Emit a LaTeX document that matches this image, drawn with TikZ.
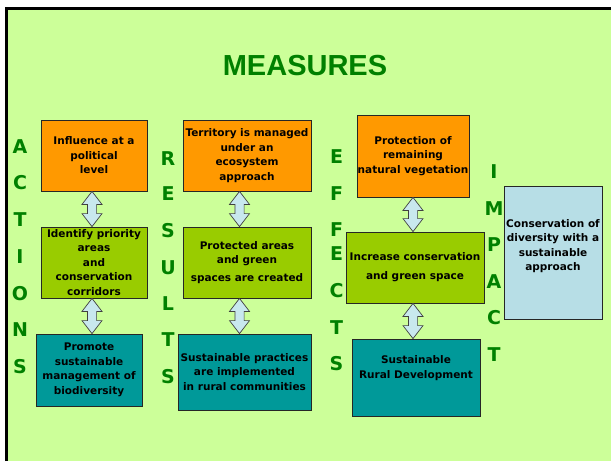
\documentclass[tikz,border=0pt]{standalone}
\usepackage{fontspec}
\setmainfont{DejaVu Sans}
\newfontfamily\titlefont{Liberation Sans}
\usetikzlibrary{calc}
\definecolor{bg}{RGB}{204,255,153}
\definecolor{orng}{RGB}{255,153,0}
\definecolor{grn}{RGB}{153,204,0}
\definecolor{tealbox}{RGB}{0,153,153}
\definecolor{lblue}{RGB}{183,222,230}
\definecolor{arrfill}{RGB}{200,232,238}
\definecolor{ltrgreen}{RGB}{0,128,0}
\newcommand\dblarr[2]{\path[arrsty] let \p1=#1, \p2=#2 in
  (\x1,\y1) -- (\x1+10pt,\y1-13pt) -- (\x1+4.6pt,\y1-13pt) -- (\x1+4.6pt,\y2+13pt)
  -- (\x1+10pt,\y2+13pt) -- (\x1,\y2) -- (\x1-10pt,\y2+13pt) -- (\x1-4.6pt,\y2+13pt)
  -- (\x1-4.6pt,\y1-13pt) -- (\x1-10pt,\y1-13pt) -- cycle;}
\begin{document}
\begin{tikzpicture}[x=1pt,y=-1pt,
  box/.style={draw=black!85, line width=0.8pt, inner sep=0pt, align=center,
    font=\fontsize{10.5}{14.5}\selectfont\bfseries},
  ltr/.style={text=ltrgreen, font=\fontsize{19}{19}\selectfont\bfseries, inner sep=0pt},
  arrsty/.style={draw=black!75, fill=arrfill, line width=0.7pt, line join=miter}]
% background
\fill[bg] (5,9) rectangle (611,461);
\draw[line width=2.8pt] (6.2,461) -- (6.2,8.7) -- (611,8.7);
% title
\node[text=ltrgreen, font=\titlefont\fontsize{29}{29}\selectfont\bfseries, inner sep=0pt] (title) at (305,65.5) {MEASURES};
% boxes
\node[box, fill=orng, minimum width=106pt, minimum height=71pt] (a1) at (94,155.5) {Influence at a\\political\\level};
\node[box, fill=orng, minimum width=128pt, minimum height=71pt] (r1) at (247,155.5) {Territory is managed\\under an\\ecosystem\\approach};
\node[box, fill=orng, minimum width=112pt, minimum height=82pt] (e1) at (413,156) {Protection of\\remaining\\natural vegetation};
\node[box, fill=grn, minimum width=106pt, minimum height=71pt] (a2) at (94,262.5) {Identify priority\\areas\\and\\conservation\\corridors};
\node[box, fill=grn, minimum width=128pt, minimum height=71pt] (r2) at (247,262.5) {Protected areas\\and green\\[3pt]spaces are created};
\node[box, fill=grn, minimum width=138pt, minimum height=71pt] (e2) at (415,267.5) {Increase conservation\\[4.5pt]and green space};
\node[box, fill=tealbox, minimum width=106pt, minimum height=72pt] (a3) at (89,370) {Promote\\sustainable\\management of\\biodiversity};
\node[box, fill=tealbox, minimum width=133pt, minimum height=76pt] (r3) at (244.5,372) {Sustainable practices\\are implemented\\in rural communities};
\node[box, fill=tealbox, minimum width=128pt, minimum height=77pt] (e3) at (416,377.5) {\raisebox{9.5pt}[\height][\depth]{\begin{tabular}{@{}c@{}}Sustainable\\Rural Development\end{tabular}}};
\node[box, fill=lblue, minimum width=98pt, minimum height=133pt] (im) at (553,252.5) {\raisebox{6.5pt}[\height][\depth]{\begin{tabular}{@{}c@{}}Conservation of\\diversity with a\\sustainable\\approach\end{tabular}}};
% arrows
\dblarr{($(a1.south)+(-2,0)$)}{($(a2.north)+(-2,0)$)}
\dblarr{($(a2.south)+(-2,0)$)}{($(a3.north)+(3,0)$)}
\dblarr{($(r1.south)+(-7.5,0)$)}{($(r2.north)+(-7.5,0)$)}
\dblarr{($(r2.south)+(-7.5,0)$)}{($(r3.north)+(-5,0)$)}
\dblarr{(e1.south)}{($(e2.north)+(-2,0)$)}
\dblarr{($(e2.south)+(-2,0)$)}{($(e3.north)+(-3,0)$)}
% ACTIONS
\node[ltr] (c1) at (20,147) {A};
\node[ltr] (c2) at (20,183) {C};
\node[ltr] (c3) at (20,220) {T};
\node[ltr] (c4) at (20,257) {I};
\node[ltr] (c5) at (20,293.5) {O};
\node[ltr] (c6) at (20,330) {N};
\node[ltr] (c7) at (20,366.5) {S};
% RESULTS
\node[ltr] (s1) at (168,158.5) {R};
\node[ltr] (s2) at (168,194) {E};
\node[ltr] (s3) at (168,231) {S};
\node[ltr] (s4) at (168,268) {U};
\node[ltr] (s5) at (168,304) {L};
\node[ltr] (s6) at (168,340) {T};
\node[ltr] (s7) at (168,376.5) {S};
% EFFECTS
\node[ltr] (f1) at (336.5,157) {E};
\node[ltr] (f2) at (336.5,194) {F};
\node[ltr] (f3) at (336.5,229.5) {F};
\node[ltr] (f4) at (336.5,254) {E};
\node[ltr] (f5) at (336.5,290.5) {C};
\node[ltr] (f6) at (336.5,327.5) {T};
\node[ltr] (f7) at (336.5,363.5) {S};
% IMPACT
\node[ltr] (p1) at (494,172) {I};
\node[ltr] (p2) at (494,209) {M};
\node[ltr] (p3) at (494,245) {P};
\node[ltr] (p4) at (494,282) {A};
\node[ltr] (p5) at (494,318) {C};
\node[ltr] (p6) at (494,355) {T};
\pgfresetboundingbox
\useasboundingbox (0,0) rectangle (611,461);
\end{tikzpicture}
\end{document}
